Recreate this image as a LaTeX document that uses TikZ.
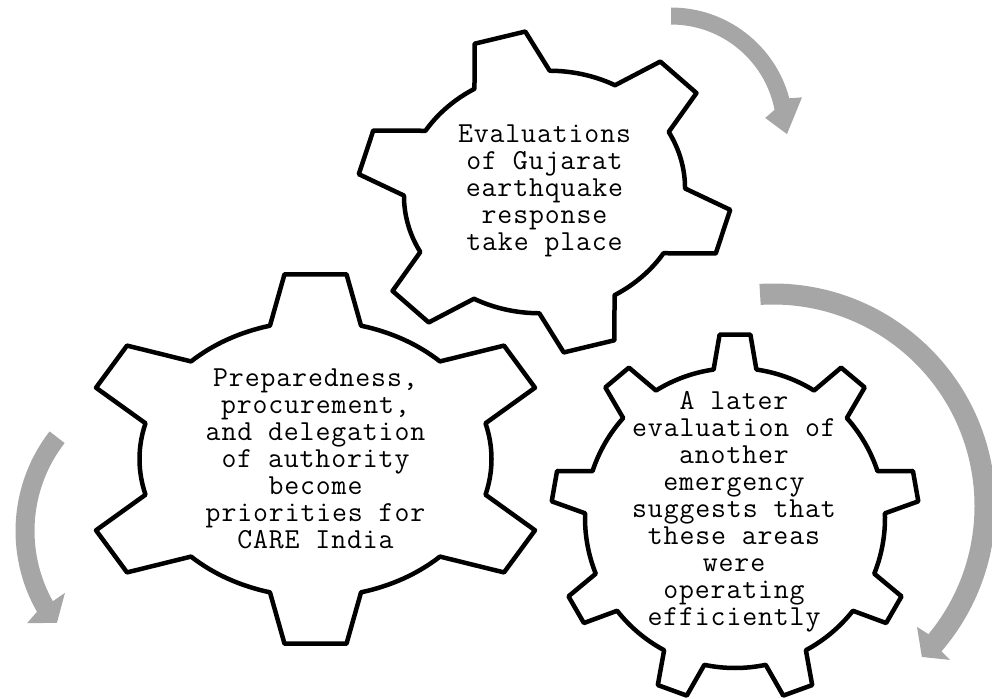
\documentclass[tikz,border=0pt]{standalone}
\usepackage{fontspec}
\newfontfamily\gearfont{Latin Modern Mono}[LetterSpace=3.0]
\definecolor{arrowgray}{HTML}{A6A6A6}

\tikzset{
    gear/.style={draw=black, fill=white, line width=4.5pt, line join=round},
    gear label/.style={align=center, inner sep=0, font=\gearfont\fontsize{29}{27}\selectfont},
    turn arrow/.style={fill=arrowgray, draw=none}
    }

% #1 teeth, #2 first tooth angle, #3 tip radius, #4 half angle at base, #5 half angle at tip
\newcommand{\gearoutline}[5]{%
    \pgfmathsetmacro{\gstep}{360/#1}
    \draw[gear] ({#2-#4}:1)
        \foreach \k in {1,...,#1}{
            -- ({#2+(\k-1)*\gstep-#5}:#3) -- ({#2+(\k-1)*\gstep+#5}:#3)
            -- ({#2+(\k-1)*\gstep+#4}:1)
            arc[start angle={#2+(\k-1)*\gstep+#4}, end angle={#2+\k*\gstep-#4}, radius=1pt]
        } -- cycle;
}

\begin{document}
\begin{tikzpicture}[x=1pt, y=-1pt]
    \useasboundingbox (0,0) rectangle (992,698);
    \clip (0,0) rectangle (992,698);

    \begin{scope}[shift={(671,130)}, y=1pt]
        \fill[turn arrow] (90:122.5) arc[start angle=90, end angle=15, radius=122.5pt]
            -- (14:135) -- (-2:116) -- (7.3:95) -- (11:105.5)
            arc[start angle=11, end angle=90, radius=105.5pt] -- cycle;
    \end{scope}
    \begin{scope}[shift={(773,506)}, y=1pt]
        \fill[turn arrow] (93.5:222.5) arc[start angle=93.5, end angle=-40.8, radius=222.5pt]
            -- (-41:234.6) -- (-45.4:212) -- (-40:188) -- (-39.5:201.5)
            arc[start angle=-39.5, end angle=93.5, radius=201.5pt] -- cycle;
    \end{scope}
    \begin{scope}[shift={(178,531)}, y=1pt]
        \fill[turn arrow] (142.2:162.5) arc[start angle=142.2, end angle=209.8, radius=162.5pt]
            -- (211.4:176.8) -- (217.2:152) -- (208.7:128.9) -- (209.3:143.5)
            arc[start angle=209.3, end angle=142.2, radius=143.5pt] -- cycle;
    \end{scope}

    \begin{scope}[shift={(544.5,192)}, y=1pt, cm={135,-30,39,117.5,(0,0)}]
        \gearoutline{6}{0}{1.335}{16}{8}
    \end{scope}
    \begin{scope}[shift={(315.5,459)}, y=1pt, xscale=176, yscale=138]
        \gearoutline{6}{90}{1.35}{15}{7.5}
    \end{scope}
    \begin{scope}[shift={(735,518)}, y=1pt, scale=150]
        \gearoutline{9}{90}{1.227}{8.2}{4.8}
    \end{scope}

    \node[gear label] (evaluations) at (544.5,191) {Evaluations\\of Gujarat\\earthquake\\response\\take place};
    \node[gear label] (priorities) at (315.5,459) {Preparedness,\\procurement,\\and delegation\\of authority\\become\\priorities for\\CARE India};
    \node[gear label] (later) at (734,512) {A later\\evaluation of\\another\\emergency\\suggests that\\these areas\\were\\operating\\efficiently};
\end{tikzpicture}
\end{document}
